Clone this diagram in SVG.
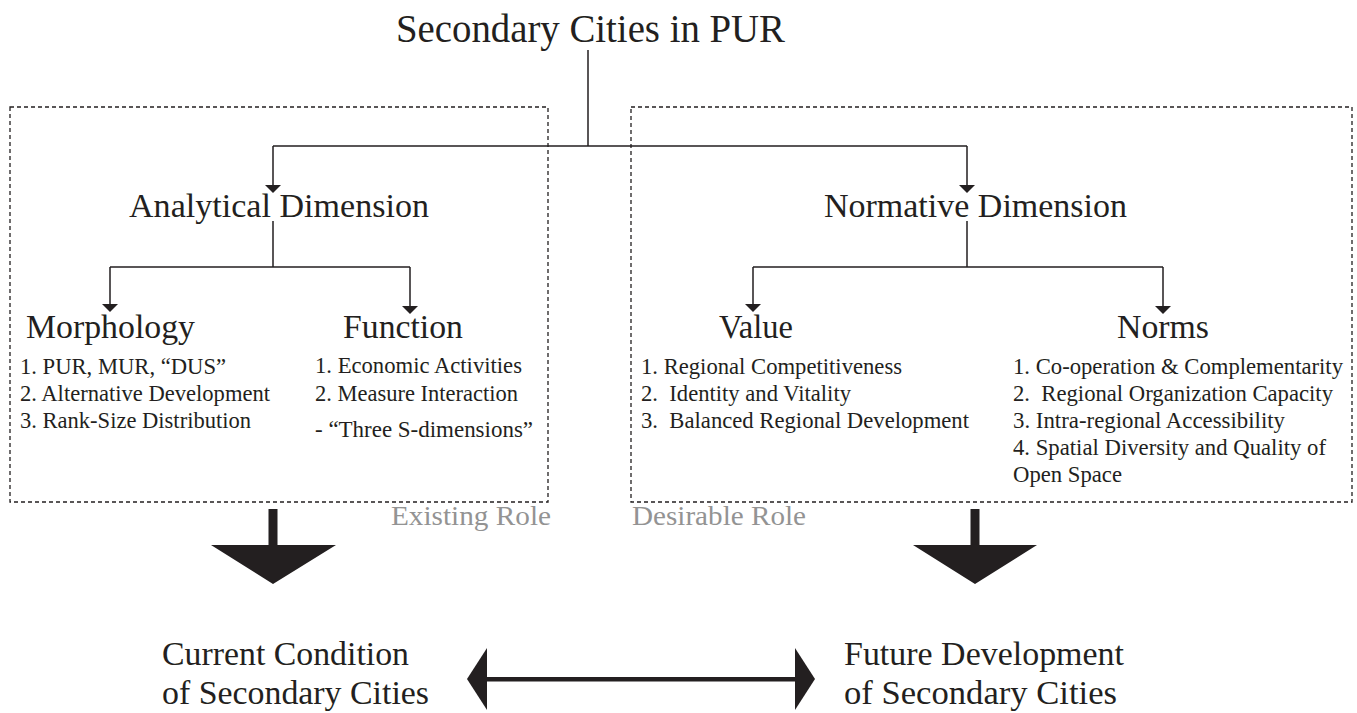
<svg xmlns="http://www.w3.org/2000/svg" width="1357" height="713" viewBox="0 0 1357 713">
<style>
text{font-family:'Liberation Serif','Times New Roman',Times,'DejaVu Serif',serif;fill:#231f20}
.t{font-size:39px}
.h1{font-size:34px}
.h2{font-size:33px}
.li{font-size:22.5px}
.role{font-size:27px;fill:#939393}
.bt{font-size:34px}
.ln{stroke:#231f20;stroke-width:1.5;fill:none}
.box{stroke:#231f20;stroke-width:1.3;fill:none;stroke-dasharray:4 3}
.ah{fill:#231f20}
</style>
<rect width="1357" height="713" fill="#ffffff"/>
<g id="boxes">
<rect id="box-existing" class="box" x="10" y="107" width="538" height="395"/>
<rect id="box-desirable" class="box" x="631" y="107" width="721" height="395"/>
</g>
<g id="connectors">
<path class="ln" d="M588,50 V146 M273,146 H967 M273,146 V186 M967,146 V186"/>
<polygon class="ah" points="265,185 281,185 273,193"/>
<polygon class="ah" points="959,185 975,185 967,193"/>
<path class="ln" d="M273,221 V267 M110,267 H410 M110,267 V305 M410,267 V307"/>
<polygon class="ah" points="102,304 118,304 110,312"/>
<polygon class="ah" points="402,306 418,306 410,314"/>
<path class="ln" d="M967,221 V267 M753,267 H1163 M753,267 V305 M1163,267 V307"/>
<polygon class="ah" points="745,304 761,304 753,312"/>
<polygon class="ah" points="1155,306 1171,306 1163,314"/>
<polygon id="big-arrow-left" class="ah" points="268.5,509 277.5,509 277.5,545 336,545 273,584 211,545 268.5,545"/>
<polygon id="big-arrow-right" class="ah" points="970.5,509 979.5,509 979.5,545 1037,545 975,584 913,545 970.5,545"/>
<g id="double-arrow">
<rect class="ah" x="485" y="677" width="312" height="4.5"/>
<polygon class="ah" points="467,679 487,648 487,710"/>
<polygon class="ah" points="815,679 795,648 795,710"/>
</g>
</g>
<g id="node-title"><text class="t" x="396" y="42" textLength="389" lengthAdjust="spacingAndGlyphs">Secondary Cities in PUR</text></g>
<g id="node-analytical"><text class="h1" x="129" y="217" textLength="300" lengthAdjust="spacingAndGlyphs">Analytical Dimension</text></g>
<g id="node-normative"><text class="h1" x="824" y="217" textLength="303" lengthAdjust="spacingAndGlyphs">Normative Dimension</text></g>
<g id="node-morphology">
<text class="h2" x="26" y="338" textLength="169" lengthAdjust="spacingAndGlyphs">Morphology</text>
<text class="li" x="20" y="374" textLength="206" lengthAdjust="spacingAndGlyphs">1. PUR, MUR, “DUS”</text>
<text class="li" x="20" y="401" textLength="250" lengthAdjust="spacingAndGlyphs">2. Alternative Development</text>
<text class="li" x="20" y="428" textLength="231" lengthAdjust="spacingAndGlyphs">3. Rank-Size Distribution</text>
</g>
<g id="node-function">
<text class="h2" x="343" y="338" textLength="120" lengthAdjust="spacingAndGlyphs">Function</text>
<text class="li" x="315" y="373" textLength="207" lengthAdjust="spacingAndGlyphs">1. Economic Activities</text>
<text class="li" x="315" y="401" textLength="203" lengthAdjust="spacingAndGlyphs">2. Measure Interaction</text>
<text class="li" x="315" y="437" textLength="218" lengthAdjust="spacingAndGlyphs">- “Three S-dimensions”</text>
</g>
<g id="node-value">
<text class="h2" x="719" y="338" textLength="74" lengthAdjust="spacingAndGlyphs">Value</text>
<text class="li" x="641" y="374" textLength="261" lengthAdjust="spacingAndGlyphs">1. Regional Competitiveness</text>
<text class="li" x="641" y="401" textLength="210" lengthAdjust="spacingAndGlyphs" xml:space="preserve">2.  Identity and Vitality</text>
<text class="li" x="641" y="428" textLength="328" lengthAdjust="spacingAndGlyphs" xml:space="preserve">3.  Balanced Regional Development</text>
</g>
<g id="node-norms">
<text class="h2" x="1117" y="338" textLength="92" lengthAdjust="spacingAndGlyphs">Norms</text>
<text class="li" x="1013" y="374" textLength="330" lengthAdjust="spacingAndGlyphs">1. Co-operation &amp; Complementarity</text>
<text class="li" x="1013" y="401" textLength="320" lengthAdjust="spacingAndGlyphs" xml:space="preserve">2.  Regional Organization Capacity</text>
<text class="li" x="1013" y="428" textLength="272" lengthAdjust="spacingAndGlyphs">3. Intra-regional Accessibility</text>
<text class="li" x="1013" y="455" textLength="313" lengthAdjust="spacingAndGlyphs">4. Spatial Diversity and Quality of</text>
<text class="li" x="1013" y="482" textLength="109" lengthAdjust="spacingAndGlyphs">Open Space</text>
</g>
<g id="label-existing"><text class="role" x="391" y="525" textLength="160" lengthAdjust="spacingAndGlyphs">Existing Role</text></g>
<g id="label-desirable"><text class="role" x="632" y="525" textLength="174" lengthAdjust="spacingAndGlyphs">Desirable Role</text></g>
<g id="node-current">
<text class="bt" x="162" y="665" textLength="247" lengthAdjust="spacingAndGlyphs">Current Condition</text>
<text class="bt" x="162" y="704" textLength="267" lengthAdjust="spacingAndGlyphs">of Secondary Cities</text>
</g>
<g id="node-future">
<text class="bt" x="844" y="665" textLength="280" lengthAdjust="spacingAndGlyphs">Future Development</text>
<text class="bt" x="844" y="704" textLength="273" lengthAdjust="spacingAndGlyphs">of Secondary Cities</text>
</g>
</svg>
